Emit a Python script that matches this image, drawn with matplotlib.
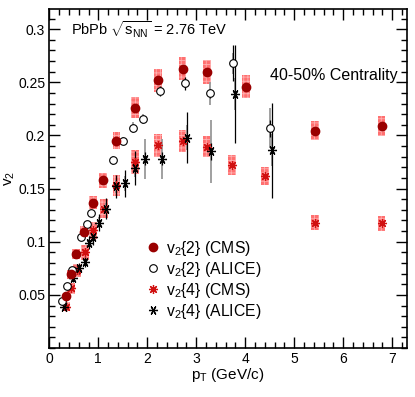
import matplotlib
matplotlib.use("Agg")
import matplotlib.pyplot as plt
from matplotlib.lines import Line2D
from matplotlib.ticker import MultipleLocator

plt.rcParams['font.family'] = ['Liberation Sans', 'DejaVu Sans']
plt.rcParams['mathtext.fontset'] = 'custom'
plt.rcParams['mathtext.rm'] = 'Liberation Sans'
plt.rcParams['mathtext.it'] = 'Liberation Sans'
plt.rcParams['hatch.linewidth'] = 0.6

# CMS v2{2}
cms_v22_pt = [0.35, 0.45, 0.55, 0.70, 0.90, 1.10, 1.37, 1.75, 2.22, 2.72, 3.22, 4.02, 5.43, 6.78]
cms_v22 = [0.0486, 0.0692, 0.0885, 0.1094, 0.1366, 0.158, 0.195, 0.226, 0.252, 0.263, 0.2597, 0.246, 0.2046, 0.2093]
cms_v22_sys = [0.003, 0.004, 0.005, 0.005, 0.006, 0.007, 0.008, 0.010, 0.011, 0.011, 0.011, 0.0105, 0.0086, 0.0094]

# CMS v2{4}
cms_v24_pt = [0.35, 0.45, 0.56, 0.72, 0.90, 1.11, 1.37, 1.75, 2.22, 2.72, 3.22, 3.73, 4.41, 5.42, 6.78]
cms_v24 = [0.039, 0.056, 0.073, 0.090, 0.111, 0.131, 0.153, 0.175, 0.1906, 0.195, 0.1896, 0.172, 0.1616, 0.118, 0.1173]
cms_v24_sys = [0.004, 0.005, 0.006, 0.007, 0.008, 0.009, 0.010, 0.011, 0.011, 0.0105, 0.010, 0.0095, 0.0086, 0.0067, 0.0068]

# ALICE v2{2}
alice_v22_pt = [0.25, 0.36, 0.46, 0.55, 0.65, 0.76, 0.85, 1.31, 1.50, 1.70, 1.91, 2.26, 2.76, 3.27, 3.75, 4.50]
alice_v22 = [0.0439, 0.0586, 0.0736, 0.088, 0.1047, 0.1166, 0.127, 0.1766, 0.195, 0.2075, 0.2156, 0.242, 0.249, 0.2395, 0.268, 0.207]
alice_v22_stat = [0.001, 0.001, 0.001, 0.001, 0.001, 0.001, 0.002, 0.002, 0.002, 0.003, 0.003, 0.005, 0.006, 0.004, 0.017, 0.008]
alice_v22_sys = [0.002, 0.002, 0.002, 0.002, 0.003, 0.003, 0.003, 0.004, 0.004, 0.005, 0.005, 0.004, 0.004, 0.011, 0.010, 0.019]

# ALICE v2{4}
alice_v24_pt = [0.29, 0.49, 0.61, 0.72, 0.80, 0.90, 1.02, 1.15, 1.36, 1.55, 1.75, 1.96, 2.31, 2.82, 3.31, 3.80, 4.55]
alice_v24 = [0.039, 0.066, 0.075, 0.081, 0.099, 0.104, 0.118, 0.131, 0.152, 0.155, 0.169, 0.178, 0.178, 0.198, 0.185, 0.239, 0.186]
alice_v24_stat = [0.003, 0.004, 0.005, 0.005, 0.006, 0.007, 0.008, 0.010, 0.011, 0.0125, 0.016, 0.006, 0.006, 0.024, 0.008, 0.046, 0.045]
alice_v24_sys = [0.002, 0.003, 0.003, 0.003, 0.004, 0.004, 0.005, 0.005, 0.006, 0.007, 0.008, 0.019, 0.019, 0.012, 0.030, 0.015, 0.015]

dark_red = '#9a0000'
box_face = '#ff7070'
box_hatch = '#ffb0b0'
star_red = '#d01010'
star_cms = (8, 2, 0)
star_alice = (6, 2, 90)

fig = plt.figure(figsize=(4.15, 3.97), dpi=100)
ax = fig.add_axes([0.1188, 0.1234, 0.8619, 0.8539])

# CMS systematic boxes
ax.bar(cms_v22_pt, [2 * s for s in cms_v22_sys],
       bottom=[v - s for v, s in zip(cms_v22, cms_v22_sys)],
       width=0.16, color=box_face, edgecolor=box_hatch, hatch='++++', linewidth=0, zorder=1)
ax.bar(cms_v24_pt, [2 * s for s in cms_v24_sys],
       bottom=[v - s for v, s in zip(cms_v24, cms_v24_sys)],
       width=0.16, color=box_face, edgecolor=box_hatch, hatch='++++', linewidth=0, zorder=1)

# ALICE error bars: systematic (grey) under statistical (black)
ax.errorbar(alice_v22_pt, alice_v22, yerr=alice_v22_sys, fmt='none', ecolor='#999999', elinewidth=1.3, capsize=0, zorder=2)
ax.errorbar(alice_v24_pt, alice_v24, yerr=alice_v24_sys, fmt='none', ecolor='#999999', elinewidth=1.3, capsize=0, zorder=2)
ax.errorbar(alice_v22_pt, alice_v22, yerr=alice_v22_stat, fmt='none', ecolor='black', elinewidth=0.9, capsize=0, zorder=3)
ax.errorbar(alice_v24_pt, alice_v24, yerr=alice_v24_stat, fmt='none', ecolor='black', elinewidth=0.9, capsize=0, zorder=3)

ax.plot(cms_v24_pt, cms_v24, ls='none', marker=star_cms, ms=6.5, mew=0.9, color=star_red, zorder=4)
ax.plot(alice_v24_pt, alice_v24, ls='none', marker=star_alice, ms=6.5, mew=0.9, color='black', zorder=5)
ax.plot(alice_v22_pt, alice_v22, ls='none', marker='o', ms=5.5, mew=0.8, mfc='white', mec='black', zorder=5)
ax.plot(cms_v22_pt, cms_v22, ls='none', marker='o', ms=6, color=dark_red, zorder=6)

ax.set_xlim(0, 7.3)
ax.set_ylim(0, 0.319)
ax.xaxis.set_major_locator(MultipleLocator(1))
ax.xaxis.set_minor_locator(MultipleLocator(0.2))
ax.yaxis.set_major_locator(MultipleLocator(0.05))
ax.yaxis.set_minor_locator(MultipleLocator(0.01))
ax.tick_params(which='both', direction='in', top=True, right=True, labelsize=10, width=1, pad=3)
ax.tick_params(which='major', length=8)
ax.tick_params(which='minor', length=4)
ax.set_yticks([0.05, 0.1, 0.15, 0.2, 0.25, 0.3])
ax.set_yticklabels(['0.05', '0.1', '0.15', '0.2', '0.25', '0.3'])
for sp in ax.spines.values():
    sp.set_linewidth(1.2)

ax.set_xlabel(r'$\mathregular{p_T}$ (GeV/c)', fontsize=11, labelpad=0)
ax.set_ylabel(r'$\mathregular{v_2}$', fontsize=11, labelpad=1)

ax.text(0.44, 0.3, r'PbPb $\mathregular{\sqrt{s_{NN}}}$ = 2.76 TeV', fontsize=10.5, va='center')
ax.text(0.975, 0.805, '40-50% Centrality', fontsize=11.5, ha='right', va='center', transform=ax.transAxes)

handles = [
    Line2D([], [], ls='none', marker='o', ms=6, color=dark_red),
    Line2D([], [], ls='none', marker='o', ms=5.5, mew=0.8, mfc='white', mec='black'),
    Line2D([], [], ls='none', marker=star_cms, ms=6.5, mew=0.9, color=star_red),
    Line2D([], [], ls='none', marker=star_alice, ms=6.5, mew=0.9, color='black'),
]
labels = [r'$\mathregular{v_2}${2} (CMS)', r'$\mathregular{v_2}${2} (ALICE)',
          r'$\mathregular{v_2}${4} (CMS)', r'$\mathregular{v_2}${4} (ALICE)']
ax.legend(handles, labels, loc='upper left', bbox_to_anchor=(0.25, 0.345), frameon=False,
          fontsize=11.3, handlelength=0.8, handletextpad=0.45, labelspacing=0.12, borderpad=0)

fig.savefig('out.png', dpi=100)
